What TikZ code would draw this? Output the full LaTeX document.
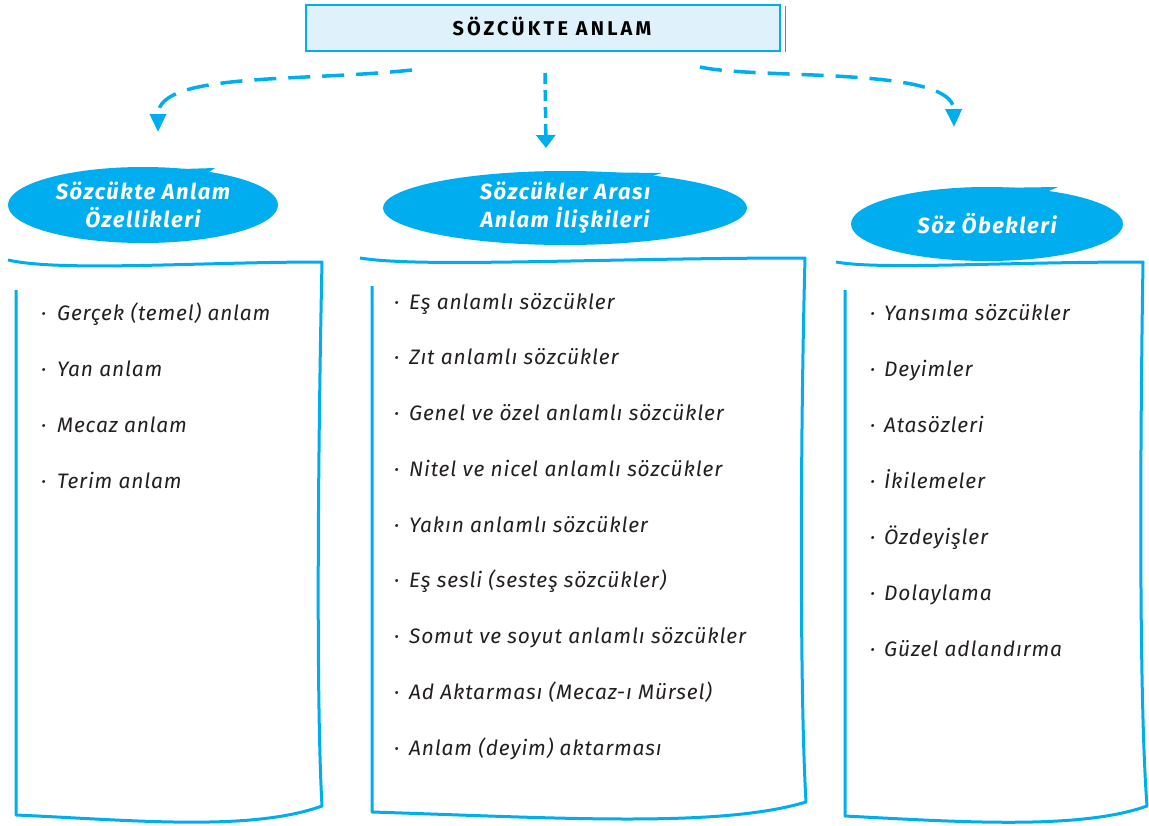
\documentclass[tikz,border=0pt]{standalone}
\usepackage{fontspec}
\setmainfont{Fira Sans}
\usetikzlibrary{shapes.geometric,arrows.meta}
\definecolor{skyblue}{HTML}{00AEEF}
\definecolor{paleblue}{HTML}{DFF2FB}
\definecolor{ink}{HTML}{231F20}

\begin{document}
\begin{tikzpicture}[x=1bp, y=-1bp,
    baslik/.style={draw=skyblue, line width=1.5bp, fill=paleblue, minimum width=474bp, minimum height=46bp,
      font=\fontsize{20}{22}\selectfont\bfseries\addfontfeatures{LetterSpace=16}},
    balon/.style={ellipse, fill=skyblue, text=white, align=center, inner sep=0pt,
      font=\fontsize{22}{28}\selectfont\bfseries\itshape\addfontfeatures{LetterSpace=7}},
    madde/.style={anchor=base west, inner sep=0pt, text=ink,
      font=\fontsize{21}{22}\selectfont\itshape\addfontfeatures{LetterSpace=4}},
    kutu/.style={draw=skyblue, line width=3bp, line join=round},
    ok/.style={draw=skyblue, line width=3.5bp, dash pattern=on 22bp off 12bp,
      -{Triangle[length=18bp,width=16bp]}}]
  \useasboundingbox (0,0) rectangle (1149,826);

  % baslik
  \node[baslik] (anlam) at (543,28) {\hspace*{18bp}SÖZCÜKTE ANLAM\raisebox{0pt}[0pt][3bp]{}};
  \draw[skyblue, line width=1.3bp] ([xshift=5bp,yshift=-2bp]anlam.north east) -- ([xshift=5bp]anlam.south east);

  % balonlar
  \node[balon, minimum width=270bp, minimum height=76bp] (ozellik) at (143,205) {Sözcükte Anlam\\Özellikleri};
  \fill[skyblue] (150,170) -- (215,168) -- (196,181) -- cycle;
  \node[balon, minimum width=364bp, minimum height=74bp] (iliski) at (565,208) {Sözcükler Arası\\Anlam İlişkileri};
  \fill[skyblue] (570,172) -- (662,173) -- (627,184) -- cycle;
  \node[balon, minimum width=272bp, minimum height=74bp] (obek) at (987,224) {Söz Öbekleri};
  \fill[skyblue] (990,188) -- (1058,187) -- (1030,199) -- cycle;

  % oklar
  \coordinate (s1) at (412,70);
  \coordinate (t1) at (158,132);
  \coordinate (s2) at (545,73);
  \coordinate (t2) at (546,148);
  \coordinate (s3) at (700,67);
  \coordinate (t3) at (954,127);
  \draw[ok] (s1) .. controls (300,82) and (158,72) .. (t1);
  \draw[ok, dash pattern=on 11bp off 6bp, -{Triangle[length=13bp,width=19bp]}] (s2) -- (t2);
  \draw[ok] (s3) .. controls (760,80) and (953,66) .. (t3);

  % kutular
  \draw[kutu] (8,260) .. controls (60,272) and (200,262) .. (322,262)
    .. controls (318,450) and (316,700) .. (322,806)
    .. controls (250,832) and (130,820) .. (16,815) -- (16,290);
  \draw[kutu] (360,258) .. controls (420,268) and (600,258) .. (805,258)
    .. controls (800,450) and (800,700) .. (806,802)
    .. controls (720,828) and (560,818) .. (372,812) -- (372,286);
  \draw[kutu] (836,262) .. controls (880,270) and (1000,262) .. (1143,262)
    .. controls (1140,450) and (1139,700) .. (1147,806)
    .. controls (1080,830) and (960,822) .. (845,816) -- (845,290);

  % maddeler
  \foreach \txt [count=\i from 0] in {Gerçek (temel) anlam, Yan anlam, Mecaz anlam, Terim anlam}
    \node[madde] (oz\i) at (41,{320+56*\i}) {\makebox[16bp][l]{·}\txt};
  \foreach \txt [count=\i from 0] in {Eş anlamlı sözcükler, Zıt anlamlı sözcükler,
      Genel ve özel anlamlı sözcükler, Nitel ve nicel anlamlı sözcükler,
      Yakın anlamlı sözcükler, Eş sesli (sesteş sözcükler),
      Somut ve soyut anlamlı sözcükler, Ad Aktarması (Mecaz-ı Mürsel),
      Anlam (deyim) aktarması}
    \node[madde] (il\i) at (394,{309+55.75*\i}) {\makebox[15bp][l]{·}\txt};
  \foreach \txt [count=\i from 0] in {Yansıma sözcükler, Deyimler, Atasözleri, İkilemeler,
      Özdeyişler, Dolaylama, Güzel adlandırma}
    \node[madde] (ob\i) at (870,{320+56*\i}) {\makebox[14bp][l]{·}\txt};
\end{tikzpicture}
\end{document}
